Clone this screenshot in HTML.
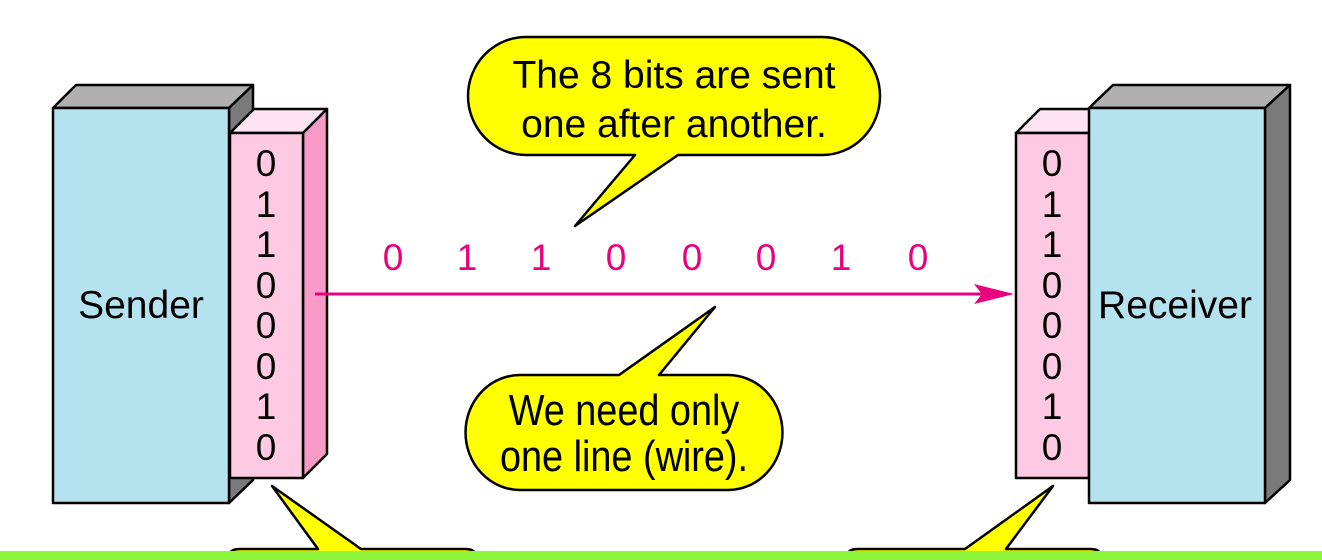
<!DOCTYPE html>
<html><head><meta charset="utf-8"><style>
html,body{margin:0;padding:0;background:#fff;width:1322px;height:560px;overflow:hidden}
svg{display:block}
text{font-family:"Liberation Sans",sans-serif}
</style></head><body>
<svg width="1322" height="560" viewBox="0 0 1322 560" xmlns="http://www.w3.org/2000/svg">
<g stroke="#000" stroke-width="2.5" stroke-linejoin="round">
<polygon points="53,108 76,85 253,85 229,108" fill="#b0b0b0"/>
<polygon points="229,108 253,85 253,480 229,503" fill="#7a7a7a"/>
<rect x="53" y="108" width="176" height="395" fill="#b5e2ef"/>
<polygon points="230,133 254,109 327,109 303,133" fill="#fde4f0"/>
<polygon points="303,133 327,109 327,454 303,478" fill="#f79ac8"/>
<rect x="230" y="133" width="73" height="345" fill="#fdc9e3"/>
<polygon points="1016,133 1040,109 1113,109 1089,133" fill="#fde4f0"/>
<rect x="1016" y="133" width="73" height="345" fill="#fdc9e3"/>
<polygon points="1089,108 1113,85 1290,85 1265,108" fill="#b0b0b0"/>
<polygon points="1265,108 1290,85 1290,480 1265,503" fill="#7a7a7a"/>
<rect x="1089" y="108" width="176" height="395" fill="#b5e2ef"/>
</g>
<text x="141" y="318" font-size="39" text-anchor="middle">Sender</text>
<text x="1175" y="318" font-size="39" text-anchor="middle">Receiver</text>
<g font-size="37" text-anchor="middle" fill="#000">
<text x="266" y="176">0</text><text x="266" y="217">1</text><text x="266" y="257">1</text><text x="266" y="298">0</text>
<text x="266" y="338">0</text><text x="266" y="379">0</text><text x="266" y="419">1</text><text x="266" y="460">0</text>
<text x="1052" y="176">0</text><text x="1052" y="217">1</text><text x="1052" y="257">1</text><text x="1052" y="298">0</text>
<text x="1052" y="338">0</text><text x="1052" y="379">0</text><text x="1052" y="419">1</text><text x="1052" y="460">0</text>
</g>
<line x1="315" y1="294" x2="990" y2="294" stroke="#e8007f" stroke-width="3"/>
<polygon points="974,284 1014,294 974,304 982,294" fill="#e8007f"/>
<g font-size="37" text-anchor="middle" fill="#e8007f">
<text x="393" y="270">0</text><text x="467" y="270">1</text><text x="541" y="270">1</text><text x="616" y="270">0</text>
<text x="692" y="270">0</text><text x="766" y="270">0</text><text x="841" y="270">1</text><text x="918" y="270">0</text>
</g>
<path d="M526,37 L822,37 A58,59 0 0 1 822,155 L678,155 L575,226 L635,155 L526,155 A58,59 0 0 1 526,37 Z" fill="#ffff00" stroke="#000" stroke-width="2.5" stroke-linejoin="round"/>
<text x="674" y="88" font-size="39" text-anchor="middle">The 8 bits are sent</text>
<text x="674" y="137" font-size="39" text-anchor="middle">one after another.</text>
<path d="M520,375 L619,375 L715,307 L659,375 L728,375 A54,57 0 0 1 728,490 L520,490 A54,57 0 0 1 520,375 Z" fill="#ffff00" stroke="#000" stroke-width="2.5" stroke-linejoin="round"/>
<text x="0" y="0" font-size="44" text-anchor="middle" transform="translate(624,425) scale(0.86,1)">We need only</text>
<text x="0" y="0" font-size="44" text-anchor="middle" transform="translate(624,471) scale(0.86,1)">one line (wire).</text>
<path d="M230,560 L230,553 Q232,549 240,549 L318,549 L272,486 L361,549 L465,549 Q473,549 475,553 L475,560 Z" fill="#ffff00" stroke="#000" stroke-width="2.5" stroke-linejoin="round"/>
<path d="M848,560 L848,553 Q850,549 858,549 L965,549 L1053,486 L1006,549 L1090,549 Q1098,549 1100,553 L1100,560 Z" fill="#ffff00" stroke="#000" stroke-width="2.5" stroke-linejoin="round"/>
<rect x="0" y="551" width="1322" height="9" fill="#8ef53a"/>
</svg>
</body></html>
